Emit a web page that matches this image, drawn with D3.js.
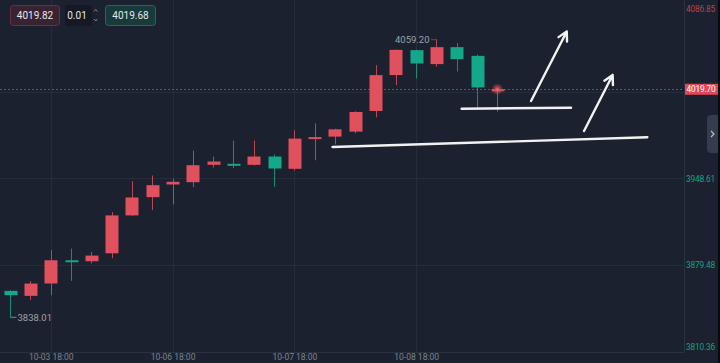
<!DOCTYPE html>
<html>
<head>
<meta charset="utf-8">
<script src="https://cdn.jsdelivr.net/npm/d3@7"></script>
<style>
  html, body { margin: 0; padding: 0; background: #1b212e; }
  svg { display: block; font-family: Roboto, "DejaVu Sans", sans-serif; }
</style>
</head>
<body>
<div id="chart"></div>
<script>
// 4h candles
var times = ["10-03 10:00", "10-03 14:00", "10-03 18:00", "10-03 22:00", "10-04 02:00",
  "10-06 06:00", "10-06 10:00", "10-06 14:00", "10-06 18:00", "10-06 22:00",
  "10-07 02:00", "10-07 06:00", "10-07 10:00", "10-07 14:00", "10-07 18:00",
  "10-07 22:00", "10-08 02:00", "10-08 06:00", "10-08 10:00", "10-08 14:00",
  "10-08 18:00", "10-08 22:00", "10-09 02:00", "10-09 06:00", "10-09 10:00"];
var open = [3859.06, 3855.10, 3864.94, 3883.45, 3882.66, 3889.00, 3919.21, 3933.75, 3943.84, 3945.67,
  3959.50, 3960.30, 3959.50, 3966.09, 3956.32, 3980.39, 3981.98, 3985.96, 4002.40, 4031.00,
  4050.87, 4039.75, 4053.26, 4046.34, 4019.00];
var high = [3859.50, 3866.80, 3891.64, 3892.75, 3890.05, 3921.83, 3946.46, 3950.99, 3948.37, 3970.86,
  3966.09, 3978.80, 3978.80, 3967.68, 3986.99, 3992.55, 3988.30, 4002.20, 4038.95, 4051.50,
  4051.35, 4059.20, 4056.44, 4047.38, 4020.30];
var low = [3838.01, 3851.90, 3855.64, 3867.00, 3880.83, 3885.04, 3918.65, 3923.42, 3927.95, 3941.70,
  3957.35, 3956.80, 3958.94, 3942.00, 3954.97, 3963.15, 3975.86, 3984.60, 3997.32, 4023.06,
  4028.30, 4037.60, 4033.87, 4003.44, 4001.85];
var close = [3855.64, 3864.90, 3883.45, 3883.00, 3887.19, 3919.21, 3933.51, 3943.29, 3945.99, 3959.18,
  3962.12, 3959.80, 3966.09, 3956.56, 3980.39, 3981.58, 3987.78, 4001.61, 4031.00, 4051.11,
  4040.23, 4053.26, 4043.72, 4021.15, 4019.70];

var timeTicks = ["10-03 18:00", "10-06 18:00", "10-07 18:00", "10-08 18:00"];
var priceTicks = [3810.36, 3879.48, 3948.61, 4017.73, 4086.85];
var lastPrice = 4019.70;
var bidAsk = ["4019.82", "0.01", "4019.68"];

// hand-drawn marks: [index, price] pairs
var levelLines = [
  [[22.24, 4004.22], [27.63, 4005.02]],
  [[15.88, 3973.70], [31.39, 3981.43]]
];
var arrows = [
  [[25.66, 4010.36], [27.42, 4065.73]],
  [[28.27, 3986.45], [29.68, 4031.07]]
];

var width = 720, height = 363;
var plotRight = 684, plotBottom = 352, plotTop = 5;
var upColor = "#e0505d", downColor = "#14a88a";
var gridColor = "#252c3a";
var axisFont = "Roboto, sans-serif";

var svg = d3.select("#chart").append("svg")
  .attr("width", width)
  .attr("height", height);

svg.append("rect").attr("width", width).attr("height", height).attr("fill", "#1b212e");

var x = d3.scalePoint().domain(times).range([0, 507.5]).padding(0.5);
var xi = d3.scaleLinear().domain([0, times.length - 1])
  .range([x(times[0]), x(times[times.length - 1])]);
var y = d3.scaleLinear().domain([priceTicks[0], priceTicks[priceTicks.length - 1]])
  .range([plotBottom, plotTop]);
var bodyW = x.step() * 0.64;

// grid
svg.append("g").selectAll("line")
  .data(timeTicks).enter().append("line")
  .attr("x1", function (d) { return Math.round(x(d)) + 0.5; })
  .attr("x2", function (d) { return Math.round(x(d)) + 0.5; })
  .attr("y1", 0).attr("y2", plotBottom)
  .attr("stroke", gridColor);
svg.append("g").selectAll("line")
  .data(priceTicks.slice(1, -1)).enter().append("line")
  .attr("x1", 0).attr("x2", plotRight)
  .attr("y1", function (d) { return Math.round(y(d)) + 0.5; })
  .attr("y2", function (d) { return Math.round(y(d)) + 0.5; })
  .attr("stroke", gridColor);

// axis frame
svg.append("line").attr("x1", plotRight + 0.5).attr("x2", plotRight + 0.5)
  .attr("y1", 0).attr("y2", plotBottom).attr("stroke", "#2a3140");
svg.append("line").attr("x1", 0).attr("x2", plotRight)
  .attr("y1", plotBottom + 0.5).attr("y2", plotBottom + 0.5).attr("stroke", "#2a3140");

// bottom axis
var xAxis = d3.axisBottom(x).tickValues(timeTicks).tickSize(0).tickPadding(0);
var gx = svg.append("g").attr("transform", "translate(0," + (plotBottom + 1) + ")").call(xAxis);
gx.select(".domain").remove();
gx.selectAll("text").attr("fill", "#7d8390").attr("font-size", 8.5).attr("dy", "0.85em")
  .attr("font-family", axisFont);

// right axis (the tick hidden by the last price tag is skipped)
var yAxis = d3.axisRight(y).tickValues(priceTicks).tickSize(0).tickPadding(2)
  .tickFormat(d3.format(".2f"));
var gy = svg.append("g").attr("transform", "translate(" + plotRight + ",0)").call(yAxis);
gy.select(".domain").remove();
gy.selectAll(".tick").filter(function (d) { return Math.abs(y(d) - y(lastPrice)) < 8; }).remove();
gy.selectAll("text")
  .attr("font-size", 8.3)
  .attr("font-family", axisFont)
  .attr("letter-spacing", -0.15)
  .attr("fill", function (d) { return d === priceTicks[priceTicks.length - 1] ? "#b8434f" : "#17a283"; })
  .attr("dy", function (d) {
    if (d === priceTicks[0]) return "-0.3em";
    if (d === priceTicks[priceTicks.length - 1]) return "0.75em";
    return "0.32em";
  });

// current price line
svg.append("line")
  .attr("x1", 0).attr("x2", plotRight)
  .attr("y1", Math.round(y(lastPrice)) + 0.5).attr("y2", Math.round(y(lastPrice)) + 0.5)
  .attr("stroke", "#9c3b48").attr("stroke-dasharray", "2,2");

// candles
var idx = d3.range(times.length);
var candles = svg.append("g").selectAll("g").data(idx).enter().append("g");
candles.append("line")
  .attr("x1", function (i) { return Math.round(x(times[i])) + 0.5; })
  .attr("x2", function (i) { return Math.round(x(times[i])) + 0.5; })
  .attr("y1", function (i) { return y(high[i]); })
  .attr("y2", function (i) { return y(low[i]); })
  .attr("stroke", function (i) { return close[i] >= open[i] ? upColor : downColor; })
  .attr("stroke-opacity", 0.8)
  .attr("stroke-width", 1);
candles.append("rect")
  .attr("x", function (i) { return Math.round(x(times[i]) - bodyW / 2) + 0.5; })
  .attr("width", Math.round(bodyW))
  .attr("y", function (i) { return y(Math.max(open[i], close[i])); })
  .attr("height", function (i) { return Math.max(2, Math.abs(y(open[i]) - y(close[i]))); })
  .attr("fill", function (i) { return close[i] >= open[i] ? upColor : downColor; });

// high / low markers
var lowIdx = d3.minIndex(low), highIdx = d3.maxIndex(high);
var lx = Math.round(x(times[lowIdx])) + 0.5, ly = y(low[lowIdx]);
svg.append("path")
  .attr("d", "M" + lx + "," + ly + "H" + (lx + 6))
  .attr("stroke", "#7d8390").attr("fill", "none");
svg.append("text").attr("x", lx + 7).attr("y", ly).attr("dy", "0.35em")
  .attr("font-size", 9.5).attr("fill", "#9ca1ab").text(low[lowIdx].toFixed(2));
var hx = Math.round(x(times[highIdx])) + 0.5, hy = y(high[highIdx]);
svg.append("path")
  .attr("d", "M" + hx + "," + hy + "H" + (hx - 6))
  .attr("stroke", "#7d8390").attr("stroke-dasharray", "1,1").attr("fill", "none");
svg.append("text").attr("x", hx - 7).attr("y", hy).attr("dy", "0.35em")
  .attr("text-anchor", "end")
  .attr("font-size", 9.5).attr("fill", "#9ca1ab").text(high[highIdx].toFixed(2));

// glow on last tick
var grad = svg.append("defs").append("radialGradient").attr("id", "glow");
grad.append("stop").attr("offset", "0%").attr("stop-color", "#ff6b78").attr("stop-opacity", 1);
grad.append("stop").attr("offset", "45%").attr("stop-color", "#e0505d").attr("stop-opacity", 0.6);
grad.append("stop").attr("offset", "100%").attr("stop-color", "#e0505d").attr("stop-opacity", 0);
var lastI = times.length - 1;
svg.append("circle").attr("cx", x(times[lastI])).attr("cy", y(lastPrice)).attr("r", 6)
  .attr("fill", "url(#glow)");

// drawn lines and arrows
var draw = svg.append("g").attr("stroke", "#f2f2f2").attr("stroke-width", 2.4)
  .attr("stroke-linecap", "round").attr("fill", "none");
draw.selectAll("line.level").data(levelLines).enter().append("line")
  .attr("class", "level")
  .attr("x1", function (d) { return xi(d[0][0]); })
  .attr("y1", function (d) { return y(d[0][1]); })
  .attr("x2", function (d) { return xi(d[1][0]); })
  .attr("y2", function (d) { return y(d[1][1]); });
draw.selectAll("path.arrow").data(arrows).enter().append("path")
  .attr("class", "arrow")
  .attr("stroke-linejoin", "round")
  .attr("d", function (d) {
    var x1 = xi(d[0][0]), y1 = y(d[0][1]), x2 = xi(d[1][0]), y2 = y(d[1][1]);
    var a = Math.atan2(y2 - y1, x2 - x1), L = 10, s = 0.5;
    var p = "M" + x1 + "," + y1 + "L" + x2 + "," + y2;
    p += "M" + (x2 - L * Math.cos(a - s)) + "," + (y2 - L * Math.sin(a - s));
    p += "L" + x2 + "," + y2;
    p += "L" + (x2 - L * Math.cos(a + s)) + "," + (y2 - L * Math.sin(a + s));
    return p;
  });

// last price label
svg.append("rect").attr("x", plotRight + 1).attr("y", y(lastPrice) - 5.5)
  .attr("width", 33).attr("height", 11).attr("fill", "#e0485a");
svg.append("text").attr("x", plotRight + 2.5).attr("y", y(lastPrice)).attr("dy", "0.35em")
  .attr("font-size", 8.3).attr("letter-spacing", -0.15).attr("font-family", axisFont)
  .attr("fill", "#ffffff").text(lastPrice.toFixed(2));

// side tab
svg.append("path").attr("d", "M718,115H711a4,4 0 0 0 -4,4V149a4,4 0 0 0 4,4H718Z")
  .attr("fill", "#353c4b");
svg.append("path").attr("d", "M711,131L714,134L711,137")
  .attr("stroke", "#b8bcc5").attr("stroke-width", 1.2).attr("fill", "none");
svg.append("rect").attr("x", 718).attr("y", 0).attr("width", 2).attr("height", height)
  .attr("fill", "#090b10");

// bid / ask header
var hdr = svg.append("g");
hdr.append("rect").attr("x", 10.5).attr("y", 5.5).attr("width", 49).attr("height", 20).attr("rx", 3)
  .attr("fill", "#3a2331").attr("stroke", "#6d2e3e");
hdr.append("rect").attr("x", 65).attr("y", 5).attr("width", 27).attr("height", 21).attr("rx", 2)
  .attr("fill", "#141924");
hdr.append("rect").attr("x", 105.5).attr("y", 5.5).attr("width", 50).attr("height", 20).attr("rx", 3)
  .attr("fill", "#173b3b").attr("stroke", "#1f6a60");
hdr.selectAll("text").data(bidAsk).enter().append("text")
  .attr("x", function (d, i) { return [35, 77, 130.5][i]; })
  .attr("y", 15.5).attr("dy", "0.35em").attr("text-anchor", "middle")
  .attr("font-size", 10).attr("fill", "#e6e7ea")
  .text(function (d) { return d; });
hdr.append("path").attr("d", "M94,11.5L95.7,9.5L97.4,11.5M94,19L95.7,21L97.4,19")
  .attr("stroke", "#8a909b").attr("fill", "none").attr("stroke-width", 0.9);
</script>
</body>
</html>
